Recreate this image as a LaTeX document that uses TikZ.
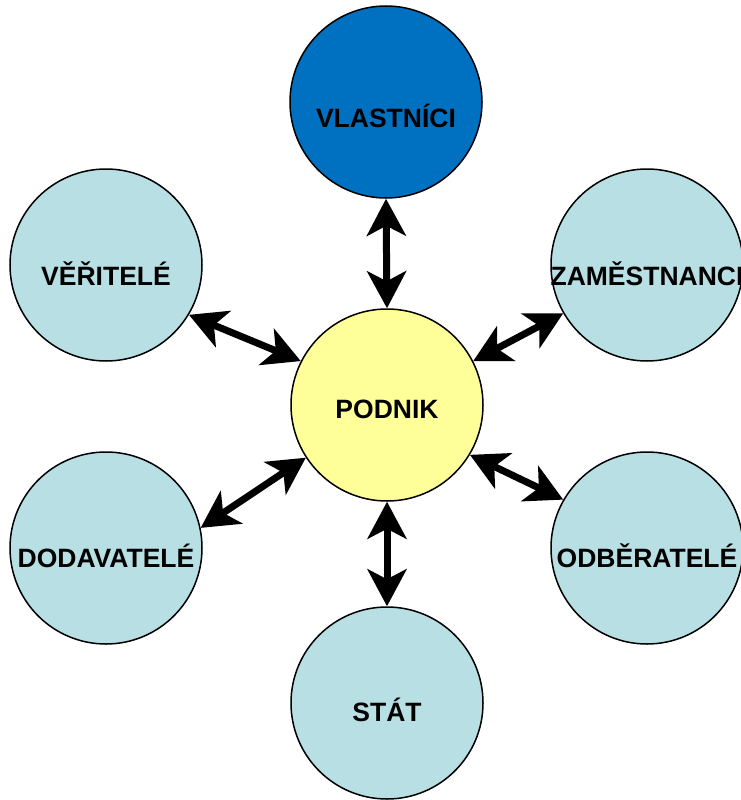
\documentclass[tikz,border=0pt]{standalone}
\usepackage{fontspec}
\setmainfont{Liberation Sans}
\usetikzlibrary{arrows.meta}

\begin{document}
\begin{tikzpicture}[
  x=1pt, y=-1pt,
  party/.style={circle, draw=black, line width=1.5pt, minimum size=192pt, inner sep=0pt},
  txt/.style={font=\fontsize{26.5}{30}\selectfont\bfseries, inner sep=0pt,
              text height=19pt, text depth=0pt},
  link/.style={line width=7pt, <->,
               >={Stealth[length=37pt, width=39pt, inset=10pt]}},
]
\definecolor{paleblue}{HTML}{B8DFE3}
\definecolor{ownerblue}{HTML}{0070C0}
\definecolor{firmyellow}{HTML}{FFFF99}

\useasboundingbox (0,0) rectangle (741,800);

% ================================================================
% Circles
% ================================================================
\node[party, fill=firmyellow] (pod) at (387,405) {};
\node[party, fill=ownerblue]  (vla) at (386,102) {};
\node[party, fill=paleblue]   (ver) at (106,265) {};
\node[party, fill=paleblue]   (zam) at (647,265) {};
\node[party, fill=paleblue]   (dod) at (106,548) {};
\node[party, fill=paleblue]   (odb) at (647,548) {};
\node[party, fill=paleblue]   (sta) at (387,703) {};

% --- Labels (caps set a little below the centre) ---
\node[txt, yshift=-4pt]  (pod-t) at (pod) {PODNIK};
\node[txt, yshift=-16pt] (vla-t) at (vla) {VLASTNÍCI};
\node[txt, yshift=-11pt] (ver-t) at (ver) {VĚŘITELÉ};
\node[txt, yshift=-11pt] (zam-t) at (zam) {ZAMĚSTNANCI};
\node[txt, yshift=-10pt] (dod-t) at (dod) {DODAVATELÉ};
\node[txt, yshift=-10pt] (odb-t) at (odb) {ODBĚRATELÉ};
\node[txt, yshift=-9pt]  (sta-t) at (sta) {STÁT};

% ================================================================
% Two-way links to the firm
% ================================================================
\draw[link] (vla.270) -- (pod.90);
\draw[link] (ver.329) -- (pod.153);
\draw[link] (zam.210) -- (pod.27);
\draw[link] (dod.12)  -- (pod.213);
\draw[link] (odb.150) -- (pod.329);
\draw[link] (sta.90)  -- (pod.270);

\end{tikzpicture}
\end{document}
